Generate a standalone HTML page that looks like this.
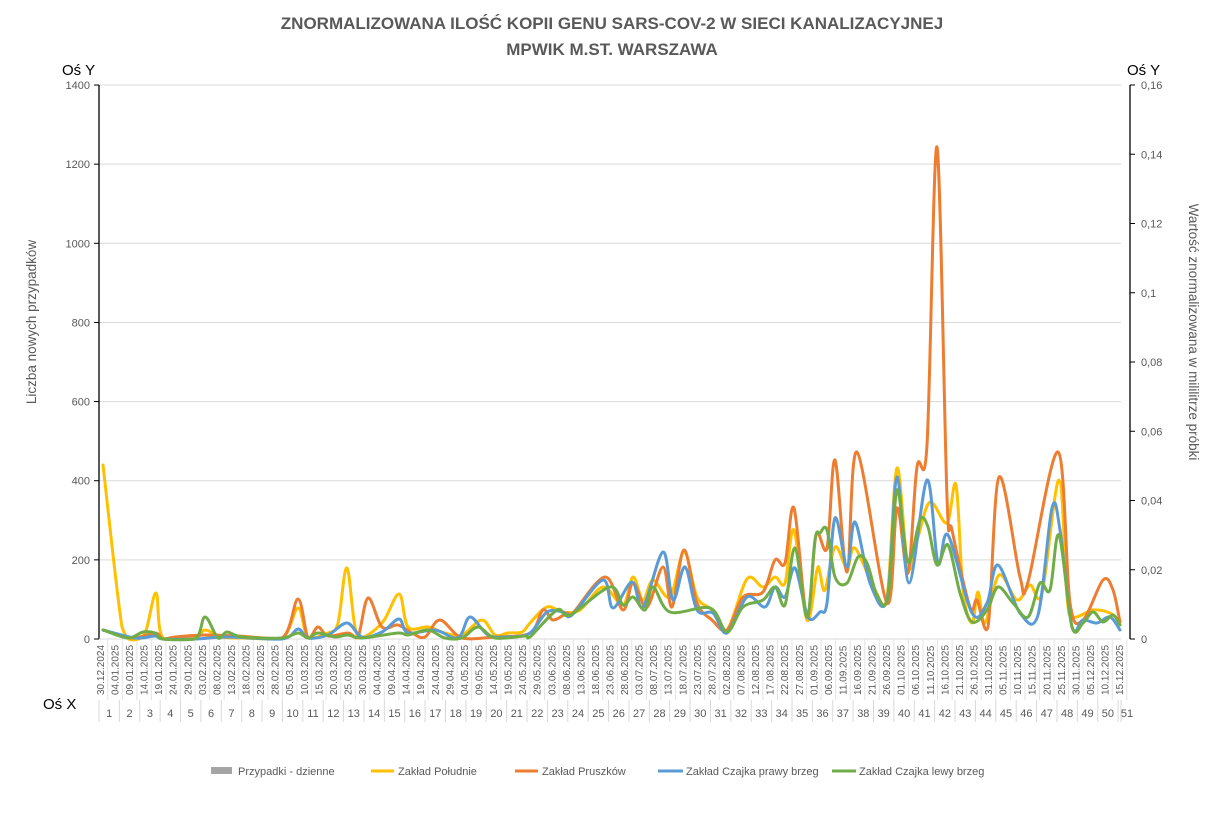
<!DOCTYPE html>
<html><head><meta charset="utf-8">
<style>
body{margin:0;background:#fff;}
svg{display:block;font-family:"Liberation Sans",sans-serif;}
</style></head>
<body>
<svg id="s" width="1221" height="816" xmlns="http://www.w3.org/2000/svg">
<rect width="1221" height="816" fill="#fff"/>
<text x="612" y="29" text-anchor="middle" font-size="17" font-weight="bold" fill="#595959">ZNORMALIZOWANA ILOŚĆ KOPII GENU SARS-COV-2 W SIECI KANALIZACYJNEJ</text>
<text x="612" y="55" text-anchor="middle" font-size="17" font-weight="bold" fill="#595959">MPWIK M.ST. WARSZAWA</text>
<text x="62" y="75" font-size="15" fill="#000">Oś Y</text>
<text x="1127" y="75" font-size="15" fill="#000">Oś Y</text>
<text x="43" y="709" font-size="15" fill="#000">Oś X</text>
<text transform="translate(36,322) rotate(-90)" text-anchor="middle" font-size="13.5" fill="#595959">Liczba nowych przypadków</text>
<text transform="translate(1189,332) rotate(90)" text-anchor="middle" font-size="13.5" fill="#595959">Wartość znormalizowana  w mililitrze próbki</text>
<g id="grid"></g>
<g id="lines" fill="none" stroke-width="3" stroke-linejoin="round" stroke-linecap="round"></g>
<g font-size="11" fill="#595959">
<rect x="211" y="767" width="21" height="7" fill="#a5a5a5"/><text x="238" y="775">Przypadki - dzienne</text>
<line x1="371" y1="771" x2="394" y2="771" stroke="#FFC000" stroke-width="3"/><text x="398" y="775">Zakład Południe</text>
<line x1="515" y1="771" x2="538" y2="771" stroke="#ED7D31" stroke-width="3"/><text x="542" y="775">Zakład Pruszków</text>
<line x1="658" y1="771" x2="683" y2="771" stroke="#5B9BD5" stroke-width="3"/><text x="686" y="775">Zakład Czajka prawy brzeg</text>
<line x1="832" y1="771" x2="856" y2="771" stroke="#70AD47" stroke-width="3"/><text x="859" y="775">Zakład Czajka lewy brzeg</text>
</g>
</svg>
<script>
const NS="http://www.w3.org/2000/svg";
const g=document.getElementById('grid');
function el(t,a,txt){const e=document.createElementNS(NS,t);for(const k in a)e.setAttribute(k,a[k]);if(txt!==undefined)e.textContent=txt;g.appendChild(e);return e;}
const X0=99,X1=1121,Y0=639,D=351,dx=(X1-X0)/D;
for(let i=0;i<=7;i++){const y=Y0-i*79.14;
 el('line',{x1:X0,y1:y,x2:X1,y2:y,stroke:'#d9d9d9','stroke-width':1});
 el('line',{x1:X0-5,y1:y,x2:X0,y2:y,stroke:'#000','stroke-width':1});
 el('text',{x:X0-9,y:y+4,'text-anchor':'end','font-size':11,fill:'#595959'},String(i*200));
}
const rl=['0','0,02','0,04','0,06','0,08','0,1','0,12','0,14','0,16'];
for(let i=0;i<=8;i++){const y=Y0-i*69.25;
 el('line',{x1:1130,y1:y,x2:1135,y2:y,stroke:'#000','stroke-width':1});
 el('text',{x:1141,y:y+4,'font-size':11,fill:'#595959'},rl[i]);
}
el('line',{x1:X0,y1:85,x2:X0,y2:Y0,stroke:'#000','stroke-width':1.3});
el('line',{x1:1130,y1:85,x2:1130,y2:Y0,stroke:'#000','stroke-width':1.3});
el('line',{x1:X0,y1:Y0,x2:X1,y2:Y0,stroke:'#d9d9d9','stroke-width':1});
const start=new Date(2024,11,30);
for(let i=0;i<D;i+=5){
 const d=new Date(start.getTime()+i*86400000+3600000*12);
 const s=String(d.getDate()).padStart(2,'0')+'.'+String(d.getMonth()+1).padStart(2,'0')+'.'+d.getFullYear();
 const x=X0+(i+0.5)*dx;
 el('text',{transform:`translate(${x+3.5},695) rotate(-90)`,'font-size':10,fill:'#595959'},s);
 el('line',{x1:X0+(i+3)*dx,y1:Y0,x2:X0+(i+3)*dx,y2:700,stroke:'#e3e3e3','stroke-width':1});
}
for(let k=0;k<=51;k++){
 const x=Math.min(X0+7*k*dx,X1);
 el('line',{x1:x,y1:700,x2:x,y2:722,stroke:'#d9d9d9','stroke-width':1});
 if(k<51){let xe=Math.min(X0+7*(k+1)*dx,X1);let cx=(x+xe)/2;if(k==50)cx=1127;el('text',{x:cx,y:717,'text-anchor':'middle','font-size':11,fill:'#595959'},String(k+1));}
}
const S={
'#FFC000':[[103,465],[122,627],[132,640],[145,633],[156,593],[163,638],[195,638],[205,630],[222,637],[242,638],[282,638],[298,608],[308,637],[328,633],[338,623],[347,568],[358,637],[382,623],[399,594],[408,627],[428,627],[445,633],[462,635],[482,620],[495,635],[508,633],[522,632],[530,623],[547,607],[563,612],[580,610],[603,587],[623,605],[633,577],[643,600],[653,580],[670,597],[684,552],[697,597],[712,610],[727,630],[747,579],[763,587],[775,577],[785,583],[794,530],[807,620],[817,570],[820,573],[825,590],[835,547],[847,568],[855,548],[875,590],[887,597],[897,468],[908,567],[918,537],[930,502],[947,523],[956,485],[963,590],[972,623],[978,592],[985,623],[999,575],[1017,600],[1030,585],[1042,593],[1059,480],[1067,597],[1073,617],[1093,610],[1110,613],[1120,622]],
'#ED7D31':[[103,630],[132,638],[155,633],[163,639],[175,637],[205,635],[238,636],[282,638],[298,599],[308,638],[318,627],[328,636],[348,633],[358,637],[368,598],[382,627],[398,625],[412,633],[425,637],[440,620],[462,638],[495,637],[530,633],[543,610],[553,620],[567,613],[573,613],[605,577],[623,610],[633,583],[647,607],[663,567],[672,607],[684,550],[697,603],[712,620],[727,630],[743,597],[763,592],[775,560],[785,563],[794,508],[807,617],[816,535],[827,548],[835,460],[847,572],[857,452],[887,603],[897,508],[908,573],[917,467],[927,445],[937,147],[947,497],[952,530],[970,607],[977,600],[988,627],[999,477],[1020,577],[1028,582],[1058,452],[1070,603],[1083,620],[1103,580],[1113,590],[1120,622]],
'#5B9BD5':[[103,630],[135,638],[155,636],[163,639],[195,639],[228,637],[282,639],[298,629],[308,638],[328,635],[347,623],[362,637],[382,632],[399,619],[408,633],[435,630],[458,638],[470,617],[488,635],[508,637],[530,633],[547,612],[563,612],[572,615],[603,580],[613,608],[632,582],[643,607],[663,552],[673,600],[685,567],[697,610],[713,613],[727,633],[747,597],[765,607],[775,587],[785,597],[795,568],[808,617],[820,612],[827,603],[835,518],[847,567],[855,522],[870,583],[887,600],[897,477],[909,583],[927,480],[938,563],[948,535],[972,613],[987,603],[998,565],[1020,613],[1038,615],[1052,508],[1060,530],[1072,627],[1083,620],[1097,623],[1110,617],[1120,630]],
'#70AD47':[[103,630],[128,638],[143,632],[155,633],[163,639],[195,639],[205,617],[218,638],[227,632],[242,637],[282,638],[298,633],[308,638],[318,633],[335,637],[348,635],[362,638],[398,633],[408,635],[428,630],[445,638],[462,638],[478,627],[495,638],[525,636],[530,637],[557,610],[570,615],[610,587],[623,605],[633,597],[645,610],[653,587],[670,612],[710,608],[727,632],[743,607],[763,600],[775,587],[785,605],[795,548],[807,617],[815,540],[820,533],[827,530],[835,577],[847,583],[858,557],[867,563],[877,595],[888,597],[897,490],[908,562],[920,520],[928,527],[937,565],[948,545],[960,593],[972,622],[987,610],[998,587],[1013,603],[1028,617],[1040,583],[1050,590],[1059,535],[1072,627],[1083,623],[1093,612],[1103,622],[1113,615],[1120,625]]
};
const L=document.getElementById('lines');
for(const c of ['#FFC000','#ED7D31','#5B9BD5','#70AD47']){
 const p=S[c];let d=`M${p[0][0]},${p[0][1]}`;
 for(let i=0;i<p.length-1;i++){
  const p0=p[Math.max(0,i-1)],p1=p[i],p2=p[i+1],p3=p[Math.min(p.length-1,i+2)];
  const t=0.5/3;
  const c1=[p1[0]+(p2[0]-p0[0])*t,Math.min(640,p1[1]+(p2[1]-p0[1])*t)];
  const c2=[p2[0]-(p3[0]-p1[0])*t,Math.min(640,p2[1]-(p3[1]-p1[1])*t)];
  d+=` C${c1[0].toFixed(1)},${c1[1].toFixed(1)} ${c2[0].toFixed(1)},${c2[1].toFixed(1)} ${p2[0]},${p2[1]}`;
 }
 const e=document.createElementNS(NS,'path');e.setAttribute('d',d);e.setAttribute('stroke',c);L.appendChild(e);
}
</script>
</body></html>
